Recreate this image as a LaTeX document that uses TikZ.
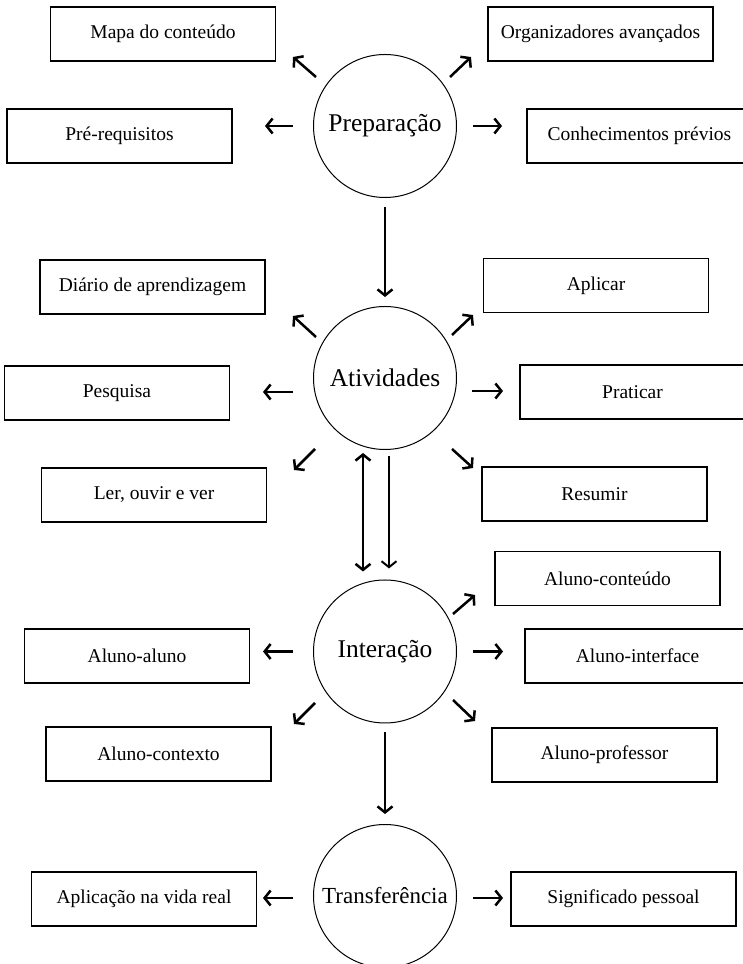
\documentclass[tikz,border=0pt]{standalone}
\usepackage{fontspec}
\setmainfont{Liberation Serif}
\usetikzlibrary{arrows.meta}

\begin{document}
\begin{tikzpicture}[x=1pt, y=1pt,
    caixa/.style={draw, line width=1.3pt, minimum width=225pt, minimum height=54pt,
        inner sep=0pt, font=\fontsize{19.5}{22}\selectfont},
    etapa/.style={draw, circle, line width=1pt, minimum size=143pt, inner sep=0pt,
        font=\fontsize{25.5}{28}\selectfont},
    seta/.style={-{Straight Barb[length=6pt, width=15pt]}, line width=2.5pt},
    seta2/.style={{Straight Barb[length=6pt, width=15pt]}-{Straight Barb[length=6pt, width=15pt]}, line width=2.5pt}]
    \useasboundingbox (0, 0) rectangle (742, 964);

    % Preparação
    \node[etapa] (prep) at (385, 838) {Preparação};
    \node[caixa] (mapa) at (163, 930) {Mapa do conteúdo};
    \node[caixa] (organiz) at (600.5, 930) {Organizadores avançados};
    \node[caixa] (prereq) at (119.5, 828) {Pré-requisitos};
    \node[caixa] (conhec) at (639.5, 828) {Conhecimentos prévios};

    \draw[seta] ([shift={(-69, 49)}]prep.center) -- ++(-23, 20);
    \draw[seta] ([shift={(65, 49)}]prep.center) -- ++(21, 20);
    \draw[seta] ([shift={(-92, 0)}]prep.center) -- ++(-28, 0);
    \draw[seta] ([shift={(88, 0)}]prep.center) -- ++(29, 0);

    % Atividades
    \node[etapa] (ativ) at (385, 586) {Atividades};
    \node[caixa] (diario) at (152.5, 677) {Diário de aprendizagem};
    \node[caixa] (aplicar) at (596, 678.5) {Aplicar};
    \node[caixa] (pesquisa) at (117, 571) {Pesquisa};
    \node[caixa] (praticar) at (632.5, 572) {Praticar};
    \node[caixa] (ler) at (154, 469) {Ler, ouvir e ver};
    \node[caixa] (resumir) at (594.5, 470) {Resumir};

    \draw[seta, shorten <=9pt, shorten >=9pt] (prep) -- (ativ);
    \draw[seta] ([shift={(-69, 41)}]ativ.center) -- ++(-23, 21);
    \draw[seta] ([shift={(67, 43)}]ativ.center) -- ++(21, 20);
    \draw[seta] ([shift={(-92, -14)}]ativ.center) -- ++(-30, 0);
    \draw[seta] ([shift={(87, -13)}]ativ.center) -- ++(31, 0);
    \draw[seta] ([shift={(-70, -71)}]ativ.center) -- ++(-21, -21);
    \draw[seta] ([shift={(67, -71)}]ativ.center) -- ++(21, -19);

    % Interação
    \node[etapa] (inter) at (385, 312.5) {Interação};
    \node[caixa] (conteudo) at (607.5, 385.5) {Aluno-conteúdo};
    \node[caixa] (alunos) at (137, 308) {Aluno-aluno};
    \node[caixa] (interface) at (637.5, 308) {Aluno-interface};
    \node[caixa] (contexto) at (158.5, 210) {Aluno-contexto};
    \node[caixa] (professor) at (604.5, 209) {Aluno-professor};

    \draw[seta2, shorten <=3pt, shorten >=8pt] ([xshift=-22pt]ativ.south) -- ([xshift=-22pt]inter.north);
    \draw[seta, line width=2pt, shorten <=6pt, shorten >=11pt] ([xshift=4pt]ativ.south) -- ([xshift=4pt]inter.north);
    \draw[seta] ([shift={(68, 37.5)}]inter.center) -- ++(22, 19);
    \draw[seta] ([shift={(-92, 0)}]inter.center) -- ++(-30, 0);
    \draw[seta] ([shift={(88, 0)}]inter.center) -- ++(30, 0);
    \draw[seta] ([shift={(-70, -51.5)}]inter.center) -- ++(-21, -21);
    \draw[seta] ([shift={(68, -48.5)}]inter.center) -- ++(22, -21);

    % Transferência
    \node[etapa, font=\fontsize{23}{26}\selectfont] (transf) at (385, 68) {Transferência};
    \node[caixa] (aplicacao) at (144, 65) {Aplicação na vida real};
    \node[caixa] (signif) at (623.5, 65) {Significado pessoal};

    \draw[seta, shorten <=9pt, shorten >=10pt] (inter) -- (transf);
    \draw[seta] ([shift={(-92, -2)}]transf.center) -- ++(-30, 0);
    \draw[seta] ([shift={(88, -2)}]transf.center) -- ++(30, 0);
\end{tikzpicture}
\end{document}
